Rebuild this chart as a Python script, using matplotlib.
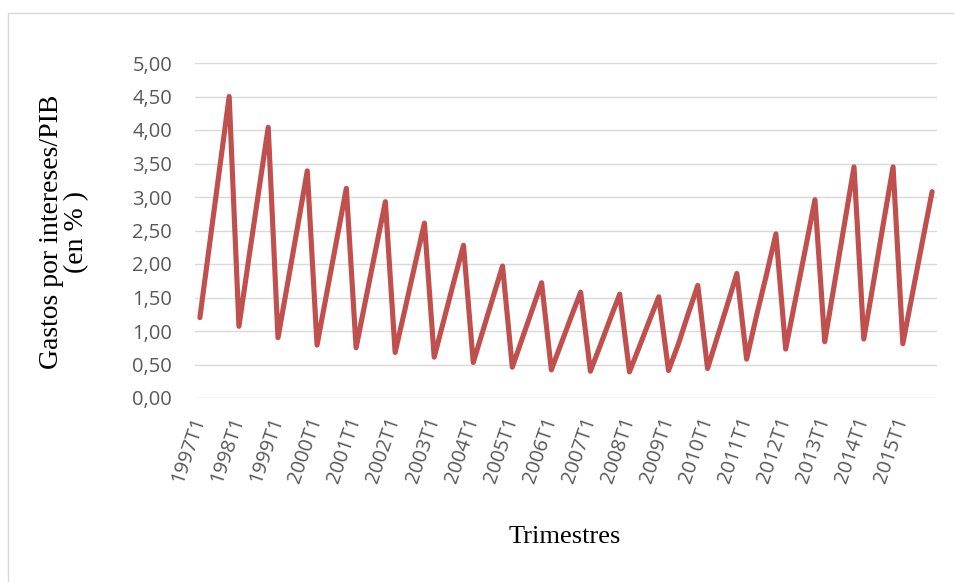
import matplotlib
matplotlib.use("Agg")
import matplotlib.pyplot as plt
from matplotlib.patches import Rectangle

# quarterly values, 1997T1 .. 2015T4 (T1, T2, T3, T4 per year)
years = list(range(1997, 2016))
gastos = [
    1.20, 2.30, 3.40, 4.50,
    1.07, 2.07, 3.06, 4.04,
    0.90, 1.72, 2.55, 3.39,
    0.79, 1.57, 2.35, 3.13,
    0.75, 1.48, 2.21, 2.93,
    0.68, 1.32, 1.97, 2.61,
    0.61, 1.17, 1.73, 2.28,
    0.53, 1.01, 1.49, 1.97,
    0.46, 0.88, 1.30, 1.72,
    0.42, 0.81, 1.20, 1.58,
    0.40, 0.78, 1.17, 1.55,
    0.39, 0.76, 1.14, 1.51,
    0.41, 0.80, 1.25, 1.68,
    0.44, 0.91, 1.38, 1.86,
    0.58, 1.22, 1.82, 2.45,
    0.73, 1.47, 2.21, 2.96,
    0.84, 1.71, 2.58, 3.45,
    0.88, 1.73, 2.60, 3.45,
    0.81, 1.57, 2.33, 3.08,
]
tick_labels = [f"{y}T1" for y in years]
y_ticks = [0, 0.5, 1, 1.5, 2, 2.5, 3, 3.5, 4, 4.5, 5]

W, H = 955, 582
fig = plt.figure(figsize=(W / 100, H / 100), dpi=100)

# chart border
fig.patches.append(Rectangle((8 / W, -0.1), (W + 10) / W, 1 - 13 / H + 0.1,
                             transform=fig.transFigure, fill=False,
                             edgecolor="#d9d9d9", linewidth=1.0))

ax = fig.add_axes([195 / W, 1 - 398 / H, (937 - 195) / W, (398 - 63) / H])

x = list(range(len(gastos)))
ax.plot(x, gastos, color="#c0504d", linewidth=3.7, solid_joinstyle="round",
        solid_capstyle="round", zorder=3)

ax.set_xlim(-0.5, len(gastos) - 0.5)
ax.set_ylim(0, 5)
ax.set_yticks(y_ticks)
ax.set_yticklabels([f"{v:.2f}".replace(".", ",") for v in y_ticks],
                   fontfamily="Open Sans", fontsize=14.5, color="#595959")
ax.set_xticks(x[::4])
ax.set_xticklabels(tick_labels, rotation=71, ha="right", va="center",
                   rotation_mode="anchor", fontfamily="Open Sans",
                   fontsize=14.5, color="#595959")
ax.tick_params(axis="both", length=0)
ax.tick_params(axis="x", pad=14)
ax.tick_params(axis="y", pad=16.5)
ax.grid(axis="y", color="#d9d9d9", linewidth=1.0)
ax.set_axisbelow(True)
for s in ax.spines.values():
    s.set_visible(False)

fig.text(64 / W, 1 - 232 / H, "Gastos por intereses/PIB\n(en % )", rotation=90,
         ha="center", va="center", multialignment="center",
         fontfamily="Liberation Serif", fontsize=20, linespacing=1.05)
fig.text(565 / W, 1 - 537 / H, "Trimestres", ha="center", va="center",
         fontfamily="Liberation Serif", fontsize=19)

fig.savefig("out.png", dpi=100)
